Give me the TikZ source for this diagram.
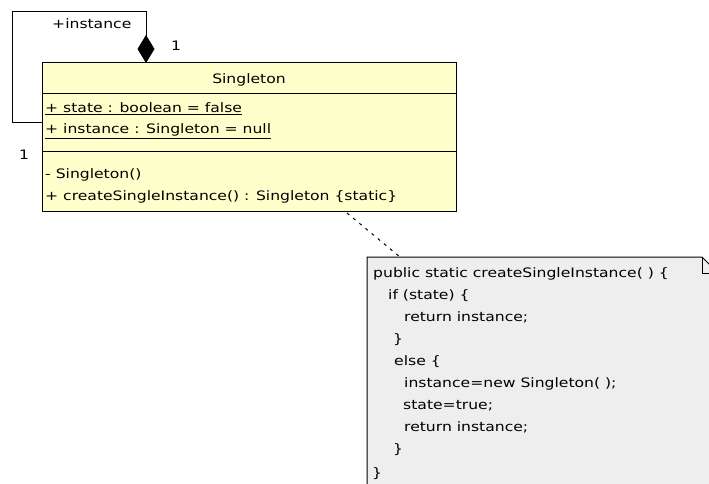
\documentclass[tikz,border=0pt]{standalone}
\usepackage{fontspec}
\setmainfont{DejaVu Sans}[FakeStretch=1.2]
\usetikzlibrary{arrows.meta}
\definecolor{classfill}{HTML}{FFFFCC}
\definecolor{notefill}{HTML}{EEEEEE}
\tikzset{
  lbl/.style={inner sep=0pt, anchor=base west, font=\fontsize{13}{15}\selectfont},
  conn/.style={draw=black, line width=1pt},
}
\begin{document}
\begin{tikzpicture}[x=1pt,y=-1pt]
\useasboundingbox (0,0) rectangle (709,484);
\clip (0,0) rectangle (709,484);
% class box
\node[draw=black, line width=1pt, fill=classfill, minimum width=414pt, minimum height=148pt, inner sep=0pt] (cls) at (249,137) {};
\draw[line width=1pt] (42,94) -- (456,94);
\draw[line width=1pt] (42,151) -- (456,151);
\node[lbl, anchor=base] (title) at (249,84) {Singleton};
\node[lbl] (a1) at (45,113) {\underline{+ state : boolean = false}};
\node[lbl] (a2) at (45,134) {\underline{+ instance : Singleton = null}};
\node[lbl] (m1) at (45,178) {- Singleton()};
\node[lbl] (m2) at (45,200) {+ createSingleInstance() : Singleton \{static\}};
% self association
\coordinate (lp) at (42,123);
\coordinate (tp) at (146,63);
\draw[conn, -{Diamond[length=28pt,width=17pt]}] (lp) -- (12,123) -- (12,12) -- (146,12) -- (tp);
\node[lbl] (r1) at (52,29) {+instance};
\node[lbl] (m1a) at (171,51) {1};
\node[lbl] (m1b) at (19,159) {1};
% note
\fill[notefill] (367,257) -- (702,257) -- (718,273) -- (718,490) -- (367,490) -- cycle;
\draw[line width=1pt] (367,490) -- (367,257) -- (702,257) -- (718,273);
\draw[line width=0.8pt] (702,257) -- (702,273) -- (718,273);
\coordinate (nc) at (400,257);
\coordinate (ms) at (347,213);
\draw[dash pattern=on 3pt off 5pt, line width=1pt] (ms) -- (nc);
\node[lbl] (n1) at (373,277) {public static createSingleInstance( ) \{};
\node[lbl] (n2) at (388,299) {if (state) \{};
\node[lbl] (n3) at (404,321) {return instance;};
\node[lbl] (n4) at (393,343) {\}};
\node[lbl] (n5) at (394,365) {else \{};
\node[lbl] (n6) at (404,387) {instance=new Singleton( );};
\node[lbl] (n7) at (403,409) {state=true;};
\node[lbl] (n8) at (404,431) {return instance;};
\node[lbl] (n9) at (393,453) {\}};
\node[lbl] (n10) at (372,477) {\}};
\end{tikzpicture}
\end{document}
